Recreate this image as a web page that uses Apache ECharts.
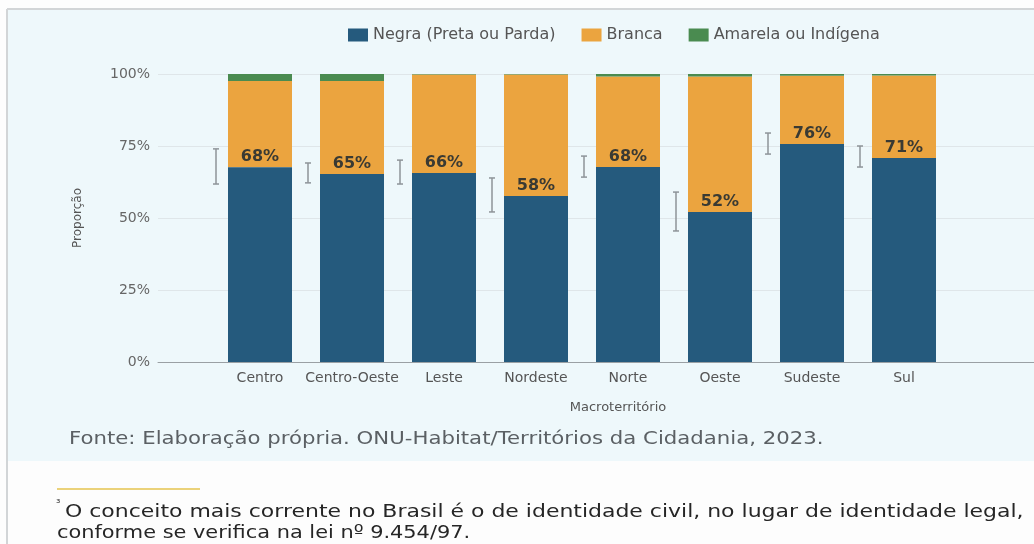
<!DOCTYPE html>
<html>
<head>
<meta charset="utf-8">
<script src="https://cdn.jsdelivr.net/npm/echarts@6/dist/echarts.min.js"></script>
<style>
  html, body { margin: 0; padding: 0; background: #fdfdfd; }
  #chart { width: 1034px; height: 544px; }
</style>
</head>
<body>
<div id="chart"></div>
<script>
// ---- data ----
const categories = ['Centro', 'Centro-Oeste', 'Leste', 'Nordeste', 'Norte', 'Oeste', 'Sudeste', 'Sul'];
const negra   = [67.6, 65.3, 65.6, 57.6, 67.7, 52.1, 75.7, 70.8];
const branca  = [30.0, 32.3, 34.2, 42.2, 31.4, 47.0, 23.7, 28.7];
const amarela = [2.4, 2.4, 0.2, 0.2, 0.9, 0.9, 0.6, 0.5];
const errLow  = [61.8, 62.2, 61.8, 52.1, 64.2, 45.5, 72.2, 67.7];
const errHigh = [74.0, 69.1, 70.1, 63.9, 71.5, 59.0, 79.5, 75.0];
const seriesNames = ['Negra (Preta ou Parda)', 'Branca', 'Amarela ou Indígena'];
const yTicks = [0, 25, 50, 75, 100];

const BAR_W = 64;
const FONT = '"DejaVu Sans"';

const chart = echarts.init(document.getElementById('chart'));

const errData = categories.map((c, i) => [i, errLow[i], errHigh[i]]);

const option = {
  animation: false,
  backgroundColor: '#fdfdfd',
  textStyle: { fontFamily: 'DejaVu Sans' },
  color: ['#255a7d', '#eba43f', '#4a8b50'],
  legend: {
    data: seriesNames,
    left: 343,
    top: 22,
    icon: 'rect',
    itemWidth: 20,
    itemHeight: 13,
    itemGap: 26,
    textStyle: { fontSize: 16, color: '#555', fontFamily: 'DejaVu Sans' }
  },
  grid: [
    { left: 214, right: 84, top: 74, bottom: 182 },
    { left: 158, right: 0, top: 74, bottom: 182 }
  ],
  xAxis: [
    {
      type: 'category', gridIndex: 0, data: categories,
      axisLine: { show: false }, axisTick: { show: false },
      axisLabel: { interval: 0, margin: 9, fontSize: 14, color: '#555' },
      name: 'Macroterritório', nameLocation: 'middle', nameGap: 39,
      nameTextStyle: { fontSize: 13, color: '#555', padding: [0, 0, 0, 72] }
    },
    {
      type: 'value', gridIndex: 1, min: 0, max: 1,
      axisLine: { show: true, lineStyle: { color: '#9aa0a4', width: 1 } },
      axisTick: { show: false }, axisLabel: { show: false }, splitLine: { show: false }
    }
  ],
  yAxis: [
    { type: 'value', gridIndex: 0, min: 0, max: 100, show: false },
    {
      type: 'value', gridIndex: 1, min: yTicks[0], max: yTicks[yTicks.length - 1], interval: 25,
      axisLabel: { formatter: '{value}%', fontSize: 14, color: '#666', margin: 8 },
      splitLine: { lineStyle: { color: '#dfe6e9', width: 1 } },
      axisLine: { show: false }, axisTick: { show: false },
      name: 'Proporção', nameLocation: 'middle', nameGap: 74,
      nameTextStyle: { fontSize: 12, color: '#555' }
    }
  ],
  series: [
    {
      name: seriesNames[0], type: 'bar', stack: 'total', xAxisIndex: 0, yAxisIndex: 0,
      barWidth: BAR_W, data: negra,
      label: {
        show: true, position: 'top', distance: 2,
        formatter: p => Math.round(p.value) + '%',
        fontSize: 16, fontWeight: 'bold', color: '#3a3a33'
      },
      z: 3
    },
    {
      name: seriesNames[1], type: 'bar', stack: 'total', xAxisIndex: 0, yAxisIndex: 0,
      barWidth: BAR_W, data: branca, z: 2
    },
    {
      name: seriesNames[2], type: 'bar', stack: 'total', xAxisIndex: 0, yAxisIndex: 0,
      barWidth: BAR_W, data: amarela, z: 2
    },
    {
      type: 'custom', xAxisIndex: 0, yAxisIndex: 0, silent: true, z: 5,
      data: errData,
      encode: { x: 0, y: [1, 2] },
      renderItem: function (params, api) {
        const i = api.value(0);
        const x = api.coord([i, 0])[0] - BAR_W / 2 - 12;
        const yl = api.coord([i, api.value(1)])[1];
        const yh = api.coord([i, api.value(2)])[1];
        const st = { stroke: '#8e9499', lineWidth: 1.5 };
        return {
          type: 'group',
          children: [
            { type: 'line', shape: { x1: x, y1: yl, x2: x, y2: yh }, style: st },
            { type: 'line', shape: { x1: x - 3, y1: yl, x2: x + 3, y2: yl }, style: st },
            { type: 'line', shape: { x1: x - 3, y1: yh, x2: x + 3, y2: yh }, style: st }
          ]
        };
      }
    }
  ],
  graphic: {
    elements: [
      { type: 'rect', z: -10, shape: { x: 7, y: 9, width: 1027, height: 452 }, style: { fill: '#eef8fb' } },
      { type: 'line', z: -5, shape: { x1: 7, y1: 9, x2: 1034, y2: 9 }, style: { stroke: '#d2d5d7', lineWidth: 2 } },
      { type: 'line', z: -5, shape: { x1: 7, y1: 9, x2: 7, y2: 544 }, style: { stroke: '#d2d5d7', lineWidth: 2 } },
      {
        type: 'text', x: 69, y: 439, scaleX: 1.18,
        style: { text: 'Fonte: Elaboração própria. ONU-Habitat/Territórios da Cidadania, 2023.', font: '18px ' + FONT, fill: '#5b6064', verticalAlign: 'middle' }
      },
      { type: 'line', shape: { x1: 57, y1: 489, x2: 200, y2: 489 }, style: { stroke: '#ebd27a', lineWidth: 2 } },
      {
        type: 'text', x: 56, y: 504,
        style: { text: '³', font: '11px ' + FONT, fill: '#333', verticalAlign: 'middle' }
      },
      {
        type: 'text', x: 65, y: 512, scaleX: 1.22,
        style: { text: 'O conceito mais corrente no Brasil é o de identidade civil, no lugar de identidade legal,', font: '18px ' + FONT, fill: '#262626', verticalAlign: 'middle' }
      },
      {
        type: 'text', x: 57, y: 533, scaleX: 1.16,
        style: { text: 'conforme se verifica na lei nº 9.454/97.', font: '18px ' + FONT, fill: '#262626', verticalAlign: 'middle' }
      }
    ]
  }
};

chart.setOption(option);
</script>
</body>
</html>
